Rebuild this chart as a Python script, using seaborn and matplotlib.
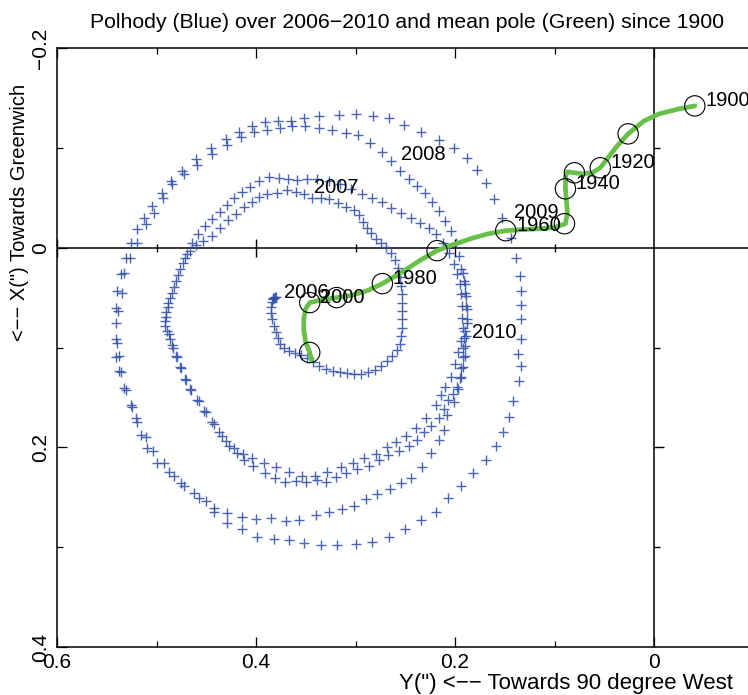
import numpy as np
import pandas as pd
import matplotlib
matplotlib.use("Agg")
import matplotlib.pyplot as plt
import seaborn as sns

# ---------------- data (polhody points in milli-arcseconds: (Y, X)) ----------------
track_2006 = [(382, 50), (380, 49), (383, 50), (381, 49), (383, 51), (384, 54), (385, 59), (385, 65),
              (384, 71), (382, 78), (380, 84), (378, 90), (376, 96), (372, 101), (367, 104),
              (361, 106), (355, 108), (349, 111), (343, 115), (337, 119), (330, 122), (323, 124),
              (316, 125), (309, 126), (302, 127), (294, 127), (287, 125), (280, 123), (274, 119),
              (268, 114), (263, 109), (258, 103), (255, 96), (254, 88), (253, 80), (253, 71),
              (253, 63), (253, 55), (253, 46), (254, 38), (255, 29), (257, 20), (260, 12),
              (264, 5), (269, -1), (274, -5), (279, -9), (284, -15), (288, -20), (292, -26),
              (296, -33), (302, -38), (310, -41), (318, -45), (327, -49), (335, -50), (344, -50)]

track_2007a = [(352, -54), (360, -56), (369, -58), (379, -55), (389, -54), (397, -51), (404, -46),
               (412, -41), (420, -34), (428, -28), (436, -20), (444, -12), (453, -7), (460, -3),
               (466, 3), (471, 10), (476, 21), (480, 33), (484, 45), (488, 55), (490, 64),
               (491, 73), (489, 83), (486, 91), (483, 100), (479, 110), (475, 121), (470, 133),
               (465, 143), (457, 154), (450, 165), (442, 177), (434, 189), (427, 199), (419, 206),
               (412, 213), (403, 219), (391, 226), (381, 231), (371, 235), (360, 234), (350, 235),
               (339, 233), (330, 235), (320, 230), (310, 226), (298, 222), (286, 219), (276, 213),
               (267, 208), (256, 204), (246, 199), (238, 193), (231, 185), (224, 179), (216, 171),
               (211, 162), (207, 153), (202, 147), (198, 140), (195, 131), (194, 121), (192, 110),
               (192, 100), (191, 90), (192, 80), (193, 70), (193, 58), (194, 46), (195, 36),
               (198, 26), (201, 16), (206, 5), (212, -5), (219, -14), (226, -20), (235, -25),
               (244, -30), (254, -35), (264, -40), (273, -46), (283, -50), (293, -54), (305, -59),
               (316, -64), (327, -67)]

track_2007b = [(339, -69), (349, -69), (359, -68), (368, -69), (377, -70), (387, -71), (397, -67),
               (406, -61), (414, -56), (422, -50), (429, -43), (436, -36), (444, -29), (451, -22),
               (458, -14), (464, -5), (469, 6), (473, 15), (478, 27), (482, 39), (486, 50),
               (488, 59), (490, 69), (491, 78), (487, 86), (484, 97), (480, 109), (476, 120),
               (471, 132), (466, 142), (459, 153), (452, 164), (444, 175), (437, 185), (430, 194),
               (422, 201), (413, 207), (404, 211), (392, 216), (380, 220), (367, 225), (354, 229),
               (341, 229), (329, 225), (315, 220), (303, 216), (291, 211), (279, 207), (268, 200),
               (259, 195), (249, 189), (239, 181), (229, 171), (219, 158), (214, 148), (210, 140),
               (204, 130), (200, 117), (197, 105), (194, 93), (190, 83), (188, 71), (189, 58),
               (190, 45), (191, 33), (194, 21), (196, 8), (199, -5), (204, -17), (210, -27),
               (216, -37), (223, -46), (230, -55), (238, -62), (246, -69), (255, -77), (264, -87),
               (273, -96), (285, -105), (297, -113)]

track_2008 = [(310, -115), (324, -118), (337, -120), (351, -122), (364, -122), (376, -120),
              (389, -118), (402, -116), (415, -111), (429, -103), (444, -94), (459, -83),
              (472, -74), (484, -64), (493, -50), (503, -35), (511, -24), (520, -5), (527, 10),
              (533, 25), (535, 45), (539, 63), (540, 95), (538, 109), (536, 125), (531, 143),
              (525, 160), (520, 175), (511, 190), (504, 204), (492, 216), (482, 229), (472, 239),
              (457, 251), (442, 261), (429, 266), (414, 270), (400, 272), (385, 271), (370, 274),
              (357, 273), (340, 268), (327, 265), (314, 262), (302, 259), (289, 252), (278, 247),
              (265, 242), (254, 236), (244, 231), (233, 220), (224, 206), (216, 193), (211, 183),
              (208, 168), (201, 155), (197, 142), (194, 130), (192, 120), (190, 109), (190, 98),
              (189, 88), (188, 75), (188, 61), (189, 48), (190, 36), (192, 25)]

track_2009 = [(430, -109), (417, -116), (404, -122), (391, -126), (378, -127), (365, -127),
              (352, -130), (337, -132), (317, -133), (300, -134), (282, -132), (266, -130),
              (251, -123), (234, -116), (216, -108), (201, -100), (188, -90), (178, -78),
              (169, -65), (161, -49), (153, -30), (144, -10), (139, 10), (135, 28), (134, 43),
              (134, 57), (134, 71), (134, 91), (137, 107), (134, 119), (136, 134), (142, 154),
              (146, 170), (152, 185), (159, 199), (169, 213), (182, 226), (194, 239), (207, 251),
              (219, 265), (234, 273), (250, 282), (266, 290), (283, 295), (300, 297), (319, 298),
              (335, 298), (352, 296), (367, 293), (382, 292), (399, 290), (414, 282), (429, 276),
              (442, 265), (450, 254), (462, 246), (475, 236), (487, 225), (499, 216), (510, 201),
              (516, 188), (521, 171), (526, 158), (533, 141), (538, 124), (541, 110), (541, 91),
              (541, 75), (541, 60), (540, 43), (536, 26), (531, 10), (526, -5), (520, -19),
              (513, -30), (505, -42), (494, -55), (485, -67), (474, -77), (460, -89), (445, -100)]

year_labels = ["2006", "2007", "2008", "2009", "2010"]
year_label_y = [0.372, 0.342, 0.254, 0.141, 0.183]
year_label_x = [0.045, -0.060, -0.093, -0.035, 0.085]

# mean pole path (arcsec)
mean_pole_y = [-0.041, -0.025, -0.005, 0.010, 0.026, 0.037, 0.047, 0.054, 0.062, 0.072, 0.080,
               0.087, 0.089, 0.089, 0.088, 0.087, 0.089, 0.101, 0.116, 0.133, 0.149, 0.166,
               0.181, 0.196, 0.208, 0.218, 0.234, 0.251, 0.261, 0.273, 0.288, 0.305, 0.319,
               0.332, 0.346, 0.350, 0.352, 0.352, 0.350, 0.346, 0.344]
mean_pole_x = [-0.142, -0.139, -0.134, -0.127, -0.114, -0.102, -0.089, -0.080, -0.075, -0.074,
               -0.075, -0.076, -0.071, -0.059, -0.047, -0.035, -0.024, -0.020, -0.019, -0.018,
               -0.017, -0.014, -0.010, -0.005, -0.001, 0.003, 0.012, 0.023, 0.029, 0.036,
               0.043, 0.048, 0.050, 0.052, 0.055, 0.061, 0.071, 0.083, 0.095, 0.105, 0.113]

decade_years = [1900, 1910, 1920, 1930, 1940, 1950, 1960, 1970, 1980, 1990, 2000, 2010]
decade_y = [-0.041, 0.026, 0.054, 0.080, 0.089, 0.090, 0.149, 0.218, 0.273, 0.319, 0.346, 0.346]
decade_x = [-0.142, -0.114, -0.080, -0.075, -0.059, -0.024, -0.017, 0.003, 0.036, 0.050, 0.055, 0.105]
labelled_decades = [1900, 1920, 1940, 1960, 1980, 2000]

x_major = [0.6, 0.4, 0.2, 0.0]
x_major_labels = ["0.6", "0.4", "0.2", "0"]
x_minor = [0.5, 0.3, 0.1, -0.1]
y_major = [-0.2, 0.0, 0.2, 0.4]
y_major_labels = ["\u22120.2", "0", "0.2", "0.4"]
y_minor = [-0.1, 0.1, 0.3]

# ---------------- build frames ----------------
tracks = [track_2006, track_2007a, track_2007b, track_2008, track_2009]
pts = np.array([p for t in tracks for p in t], dtype=float) / 1000.0
pol = pd.DataFrame({"Y": pts[:, 0], "X": pts[:, 1]})
mp = pd.DataFrame({"Y": mean_pole_y, "X": mean_pole_x})
dec = pd.DataFrame({"Y": decade_y, "X": decade_x, "year": decade_years})

sns.set_theme(style="white")
plt.rcParams["font.family"] = ["Liberation Sans", "DejaVu Sans"]
plt.rcParams["axes.unicode_minus"] = True

W, H = 748, 695
fig = plt.figure(figsize=(W / 100, H / 100), dpi=100)
ax_w_px = 0.8 / 0.2 * 199
ax = fig.add_axes([57 / W, (H - 647) / H, ax_w_px / W, 599 / H])

blue = "#3654ad"
green = "#68c04a"

ax.axhline(0, color="black", lw=1.1, zorder=1)
ax.axvline(0, color="black", lw=1.1, zorder=1)

sns.scatterplot(data=pol, x="Y", y="X", marker="+", s=56, color=blue, linewidth=1.0,
                alpha=0.9, ax=ax, zorder=3, legend=False)
sns.lineplot(data=mp, x="Y", y="X", sort=False, estimator=None, color=green, lw=3.4,
             ax=ax, zorder=4, legend=False)
sns.scatterplot(data=dec, x="Y", y="X", marker="o", s=215, color="black", facecolor="none",
                edgecolor="black", linewidth=0.8, ax=ax, zorder=5, legend=False)

for yr, yy, xx in zip(decade_years, decade_y, decade_x):
    if yr in labelled_decades:
        ax.annotate(str(yr), (yy, xx), xytext=(7.5, 3.6), textcoords="offset points",
                    ha="left", va="center", fontsize=14.5, color="black", zorder=6)

for lab, yy, xx in zip(year_labels, year_label_y, year_label_x):
    ax.text(yy, xx, lab, ha="left", va="center", fontsize=14.5, color="black", zorder=6)

ax.set_xlim(0.6, -0.2)
ax.set_ylim(0.4, -0.2)
ax.set_xticks(x_major)
ax.set_xticklabels(x_major_labels)
ax.set_xticks(x_minor, minor=True)
ax.set_yticks(y_major)
ax.set_yticklabels(y_major_labels, rotation=90, va="center")
ax.set_yticks(y_minor, minor=True)
ax.tick_params(which="both", direction="in", top=True, bottom=True, left=True, right=False,
               color="black", width=0.9, labelsize=15, labelcolor="black")
ax.tick_params(which="major", length=7.5, pad=4)
ax.tick_params(which="minor", length=4.3)
ax.tick_params(axis="y", pad=5)
ax.grid(False)
for s in ax.spines.values():
    s.set_color("black")
    s.set_linewidth(1.1)
ax.set_xlabel("")
ax.set_ylabel("")

# tick marks along the zero lines
ax.plot([v for v in x_major if v != 0], [0] * 3, ls="none", marker="|", ms=13, mew=1.0,
        color="black", zorder=2)
ax.plot(x_minor[:3], [0] * 3, ls="none", marker="|", ms=6, mew=1.0, color="black", zorder=2)
ax.plot([0], [0.2], ls="none", marker=1, ms=7.5, mew=1.0, color="black", zorder=2)
ax.plot([0] * 3, y_minor, ls="none", marker=1, ms=4.5, mew=1.0, color="black", zorder=2)

fig.text(407 / W, 1 - 22 / H, "Polhody (Blue) over 2006\u22122010 and mean pole (Green) since 1900",
         ha="center", va="center", fontsize=15.3, color="black")
fig.text(20 / W, 1 - 212 / H, "<\u2212\u2212 X(\") Towards Greenwich", rotation=90,
         ha="center", va="center", fontsize=14.5, color="black")
fig.text(566 / W, 1 - 684 / H, "Y(\") <\u2212\u2212 Towards 90 degree West",
         ha="center", va="center", fontsize=16, color="black")

fig.savefig("out.png", dpi=100)
